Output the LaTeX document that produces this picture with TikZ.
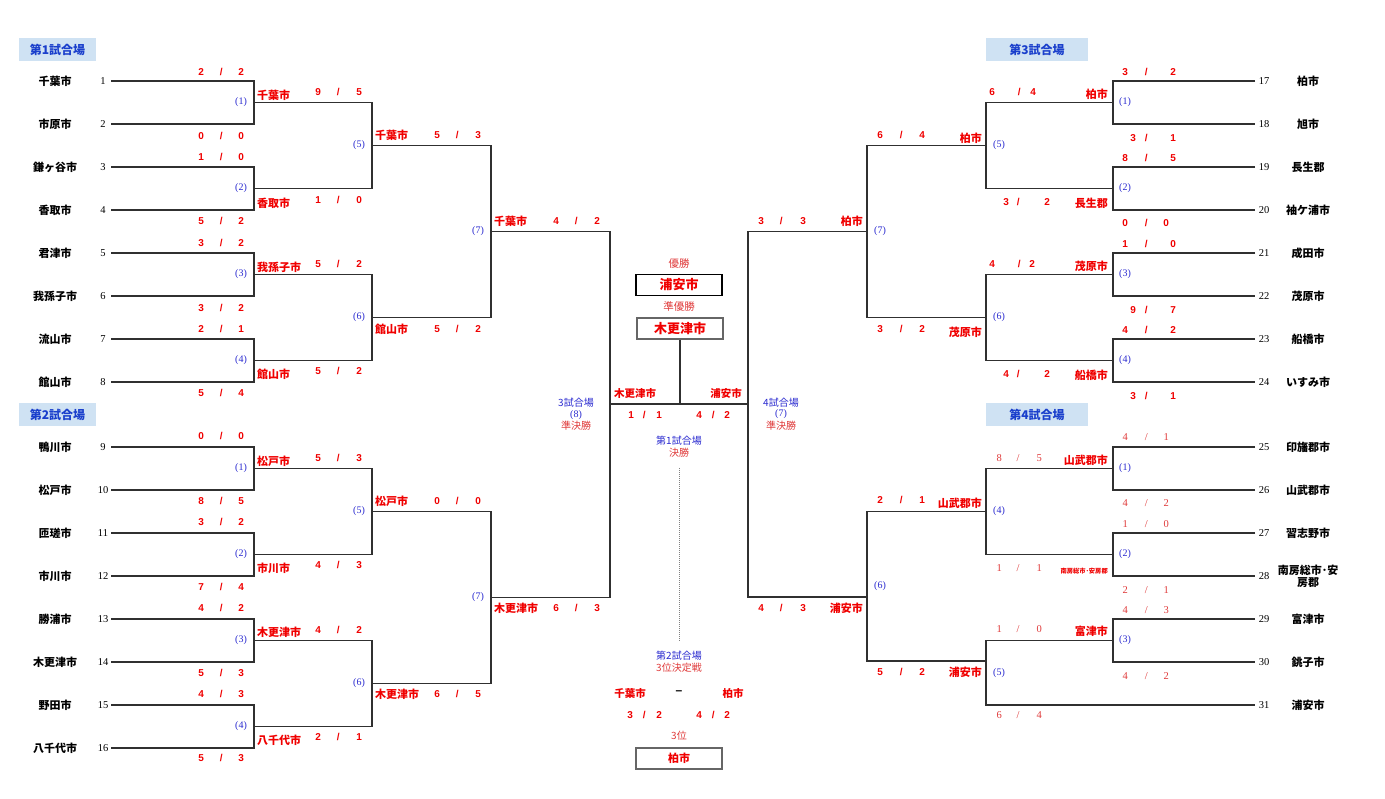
\documentclass[tikz,border=0pt]{standalone}
\usepackage{fontspec}
\setmainfont{Liberation Serif}
\newfontfamily\jp{Noto Sans CJK JP}
\newfontfamily\sansf{Liberation Sans}
\definecolor{rd}{HTML}{F00000}
\definecolor{lrd}{HTML}{E03A3A}
\definecolor{bl}{HTML}{2A2AD0}
\definecolor{hbg}{HTML}{CFE2F3}
\definecolor{hbl}{HTML}{1A3FCC}
\definecolor{ln}{HTML}{303030}
\newcommand\tripl[4]{\makebox[0pt]{#1}\hspace{#3pt}\makebox[0pt]{/}\hspace{#4pt}\makebox[0pt]{#2}}
\tikzset{
  team/.style={font=\jp\bfseries\fontsize{11}{12}\selectfont, inner sep=0},
  seed/.style={font=\fontsize{10.5}{12}\selectfont, inner sep=0},
  win/.style={font=\jp\bfseries\fontsize{11}{12}\selectfont, text=rd, inner sep=0},
  sc/.style={font=\sansf\bfseries\fontsize{10}{12}\selectfont, text=rd, inner sep=0, anchor=west},
  scl/.style={font=\fontsize{10.5}{12}\selectfont, text=lrd, inner sep=0, anchor=west},
  mno/.style={font=\fontsize{10}{12}\selectfont, text=bl, inner sep=0},
  hdr/.style={fill=hbg, text=hbl, font=\jp\bfseries\fontsize{12}{14}\selectfont, inner sep=0, minimum height=23pt},
  brk/.style={draw=ln, line width=1.6pt},
  info/.style={font=\jp\fontsize{10}{11}\selectfont, inner sep=0},
  resbox/.style={draw=#1, line width=1.2pt, minimum width=86pt, minimum height=21pt, inner sep=0, text=rd, font=\jp\bfseries\fontsize{13}{14}\selectfont},
}
\begin{document}
\begin{tikzpicture}[x=1pt,y=-1pt]
\useasboundingbox[fill=white] (0,0) rectangle (1385,799);

% headers
\node[hdr, minimum width=77pt] (h1) at (57.5,49.5) {第1試合場};
\node[hdr, minimum width=77pt] (h2) at (57.5,414.5) {第2試合場};
\node[hdr, minimum width=102pt] (h3) at (1037,49.5) {第3試合場};
\node[hdr, minimum width=102pt] (h4) at (1037,414.5) {第4試合場};

% ---------- left bracket lines ----------
\foreach \a/\b in {81/124,167/210,253/296,339/382,447/490,533/576,619/662,705/748}
  \draw[brk] (111,\a) -- (254,\a) -- (254,\b) -- (111,\b);
\foreach \a/\b in {102.5/188.5,274.5/360.5,468.5/554.5,640.5/726.5}
  \draw[brk] (254,\a) -- (372,\a) -- (372,\b) -- (254,\b);
\foreach \a/\b in {145.5/317.5,511.5/683.5}
  \draw[brk] (372,\a) -- (491,\a) -- (491,\b) -- (372,\b);
\draw[brk] (491,231.5) -- (610,231.5) -- (610,597.5) -- (491,597.5);
\coordinate (fL) at (610,404);
\coordinate (fR) at (748,404);
\draw[brk] (fL) -- (fR);

% ---------- right bracket lines ----------
\foreach \a/\b in {81/124,167/210,253/296,339/382,447/490,533/576,619/662}
  \draw[brk] (1255,\a) -- (1113,\a) -- (1113,\b) -- (1255,\b);
\foreach \a/\b in {102.5/188.5,274.5/360.5,468.5/554.5}
  \draw[brk] (1113,\a) -- (986,\a) -- (986,\b) -- (1113,\b);
\draw[brk] (1113,640.5) -- (986,640.5) -- (986,705) -- (1255,705);
\draw[brk] (986,145.5) -- (867,145.5) -- (867,317.5) -- (986,317.5);
\draw[brk] (986,511.5) -- (867,511.5) -- (867,661) -- (986,661);
\draw[brk] (867,231.5) -- (748,231.5) -- (748,597) -- (867,597);

% ---------- teams ----------
\foreach \n/\y/\t in {1/81/千葉市,2/124/市原市,3/167/鎌ヶ谷市,4/210/香取市,5/253/君津市,6/296/我孫子市,7/339/流山市,8/382/館山市,9/447/鴨川市,10/490/松戸市,11/533/匝瑳市,12/576/市川市,13/619/勝浦市,14/662/木更津市,15/705/野田市,16/748/八千代市}{
  \node[team] (tl\n) at (55,\y) {\t};
  \node[seed] (sl\n) at (103,\y) {\n};
}
\foreach \n/\y/\t in {17/81/柏市,18/124/旭市,19/167/長生郡,20/210/袖ケ浦市,21/253/成田市,22/296/茂原市,23/339/船橋市,24/382/いすみ市,25/447/印旛郡市,26/490/山武郡市,27/533/習志野市,29/619/富津市,30/662/銚子市,31/705/浦安市}{
  \node[team] (tr\n) at (1308,\y) {\t};
  \node[seed] (sr\n) at (1264,\y) {\n};
}
\node[team, align=center] (tr28) at (1308,576) {南房総市･安\\房郡};
\node[seed] (sr28) at (1264,576) {28};

% ---------- left scores ----------
\foreach \a/\b/\y [count=\i] in {2/2/72,0/0/136,1/0/157,5/2/221,3/2/243,3/2/308,2/1/329,5/4/393,0/0/436,8/5/501,3/2/522,7/4/587,4/2/608,5/3/673,4/3/694,5/3/758}
  \node[sc] (la\i) at (201,\y) {\tripl{\a}{\b}{20}{20}};
\foreach \a/\b/\y [count=\i] in {9/5/92,1/0/200,5/2/264,5/2/371,5/3/458,4/3/565,4/2/630,2/1/737}
  \node[sc] (lb\i) at (318,\y) {\tripl{\a}{\b}{20}{21}};
\foreach \t/\y [count=\i] in {千葉市/95,香取市/203,我孫子市/267,館山市/374,松戸市/461,市川市/568,木更津市/632,八千代市/740}
  \node[win, anchor=west] (lw\i) at (257,\y) {\t};
\foreach \t/\a/\b/\y [count=\i] in {千葉市/5/3/135,館山市/5/2/329,松戸市/0/0/501,木更津市/6/5/694}{
  \node[win, anchor=west] (lv\i) at (375,\y) {\t};
  \node[sc] (lc\i) at (437,\y) {\tripl{\a}{\b}{20}{21}};
}
\foreach \t/\a/\b/\y [count=\i] in {千葉市/4/2/221,木更津市/6/3/608}{
  \node[win, anchor=west] (lu\i) at (494,\y) {\t};
  \node[sc] (ld\i) at (556,\y) {\tripl{\a}{\b}{20}{21}};
}
% match numbers left
\foreach \y [count=\i] in {102.5,188.5,274.5,360.5}{
  \node[mno] (lm\i) at (241,\y) {(\i)};
}
\foreach \y [count=\i] in {468.5,554.5,640.5,726.5}{
  \node[mno] (ln\i) at (241,\y) {(\i)};
}
\node[mno] (lm5) at (359,145.5) {(5)};
\node[mno] (lm6) at (359,317.5) {(6)};
\node[mno] (ln5) at (359,511.5) {(5)};
\node[mno] (ln6) at (359,683.5) {(6)};
\node[mno] (lm7) at (478,231.5) {(7)};
\node[mno] (ln7) at (478,597) {(7)};

% ---------- right scores ----------
\node[sc] (ra1) at (1125,72) {\tripl{3}{2}{21}{27}};
\node[sc] (ra2) at (1133,138) {\tripl{3}{1}{13}{27}};
\node[sc] (ra3) at (1125,158) {\tripl{8}{5}{21}{27}};
\node[sc] (ra4) at (1125,223) {\tripl{0}{0}{21}{20}};
\node[sc] (ra5) at (1125,244) {\tripl{1}{0}{21}{27}};
\node[sc] (ra6) at (1133,310) {\tripl{9}{7}{13}{27}};
\node[sc] (ra7) at (1125,330) {\tripl{4}{2}{21}{27}};
\node[sc] (ra8) at (1133,396) {\tripl{3}{1}{13}{27}};
\foreach \a/\b/\y [count=\i] in {4/1/437,4/2/503,1/0/524,2/1/590,4/3/610,4/2/676}
  \node[scl] (rl\i) at (1125,\y) {\tripl{\a}{\b}{21}{20}};
\node[sc] (rb1) at (992,92) {\tripl{6}{4}{27}{14}};
\node[sc] (rb2) at (1006,202) {\tripl{3}{2}{12}{29}};
\node[sc] (rb3) at (992,264) {\tripl{4}{2}{27}{13}};
\node[sc] (rb4) at (1006,374) {\tripl{4}{2}{12}{29}};
\foreach \a/\b/\y [count=\i] in {8/5/458,1/1/568,1/0/629,6/4/715}
  \node[scl] (rk\i) at (999,\y) {\tripl{\a}{\b}{19}{21}};
\foreach \a/\b/\y [count=\i] in {6/4/135,3/2/329,2/1/500,5/2/672}
  \node[sc] (rc\i) at (880,\y) {\tripl{\a}{\b}{21}{21}};
\node[sc] (rd1) at (761,221) {\tripl{3}{3}{20}{22}};
\node[sc] (rd2) at (761,608) {\tripl{4}{3}{20}{22}};
% right winners
\foreach \t/\y [count=\i] in {柏市/94,長生郡/203,茂原市/266,船橋市/375,山武郡市/460,富津市/631}
  \node[win, anchor=east] (rw\i) at (1108,\y) {\t};
\node[win, anchor=east, font=\jp\bfseries\fontsize{6.3}{7}\selectfont] (rw7) at (1108,571) {南房総市･安房郡};
\foreach \t/\y [count=\i] in {柏市/138,茂原市/332,山武郡市/503,浦安市/672}
  \node[win, anchor=east] (rv\i) at (982,\y) {\t};
\node[win, anchor=east] (ru1) at (863,221) {柏市};
\node[win, anchor=east] (ru2) at (863,608) {浦安市};
% match numbers right
\foreach \y [count=\i] in {102.5,188.5,274.5,360.5}
  \node[mno] (rm\i) at (1125,\y) {(\i)};
\foreach \y [count=\i] in {468.5,554.5,640.5}
  \node[mno] (rn\i) at (1125,\y) {(\i)};
\node[mno] (rm5) at (999,145.5) {(5)};
\node[mno] (rm6) at (999,317.5) {(6)};
\node[mno] (rn4) at (999,511.5) {(4)};
\node[mno] (rn5) at (999,673) {(5)};
\node[mno] (rm7) at (880,231.5) {(7)};
\node[mno] (rn6) at (880,586) {(6)};

% ---------- centre ----------
\node[info, text=lrd, font=\jp\fontsize{10.5}{12}\selectfont] (yu) at (679,264) {優勝};
\node[resbox=black] (champ) at (679,285) {浦安市};
\node[info, text=lrd, font=\jp\fontsize{10.5}{12}\selectfont] (jy) at (679,307) {準優勝};
\node[resbox=gray!80!black] (runner) at (680,328.5) {木更津市};
\draw[brk] (runner.south) -- (runner.south |- fL);
\node[win, font=\jp\bfseries\fontsize{10.5}{12}\selectfont] (fk) at (635,393) {木更津市};
\node[win, font=\jp\bfseries\fontsize{10.5}{12}\selectfont] (fu) at (726,393) {浦安市};
\node[sc] (fs1) at (631,415) {\tripl{1}{1}{13}{15}};
\node[sc] (fs2) at (699,415) {\tripl{4}{2}{14}{14}};
\node[info, text=bl] (s3a) at (576,403) {3試合場};
\node[mno] (s3b) at (576,415) {(8)};
\node[info, text=lrd] (s3c) at (576,426) {準決勝};
\node[info, text=bl] (s4a) at (781,403) {4試合場};
\node[mno] (s4b) at (781,414.5) {(7)};
\node[info, text=lrd] (s4c) at (781,426) {準決勝};
\node[info, text=bl] (k1) at (679,441) {第1試合場};
\node[info, text=lrd] (k2) at (679,453) {決勝};
\node[info, text=bl] (t1) at (679,656) {第2試合場};
\node[info, text=lrd] (t2) at (679,667.5) {3位決定戦};
\draw[gray, line width=0.8pt, dash pattern=on 1pt off 1pt] ([yshift=-10pt]k2.south) -- ([yshift=11pt]t1.north);
\node[win, font=\jp\bfseries\fontsize{10.5}{12}\selectfont] (tc) at (630,693) {千葉市};
\node[win, font=\sansf\bfseries\fontsize{12}{12}\selectfont, text=black] (td) at (679,693) {–};
\node[win, font=\jp\bfseries\fontsize{10.5}{12}\selectfont] (tk) at (733,693) {柏市};
\node[sc] (ts1) at (630,715) {\tripl{3}{2}{14}{15}};
\node[sc] (ts2) at (699,715) {\tripl{4}{2}{14}{14}};
\node[info, text=lrd, font=\jp\fontsize{10}{12}\selectfont] (th) at (679,736) {3位};
\node[resbox=gray!80!black, font=\jp\bfseries\fontsize{11}{12}\selectfont] (third) at (679,758.5) {柏市};
\end{tikzpicture}
\end{document}
